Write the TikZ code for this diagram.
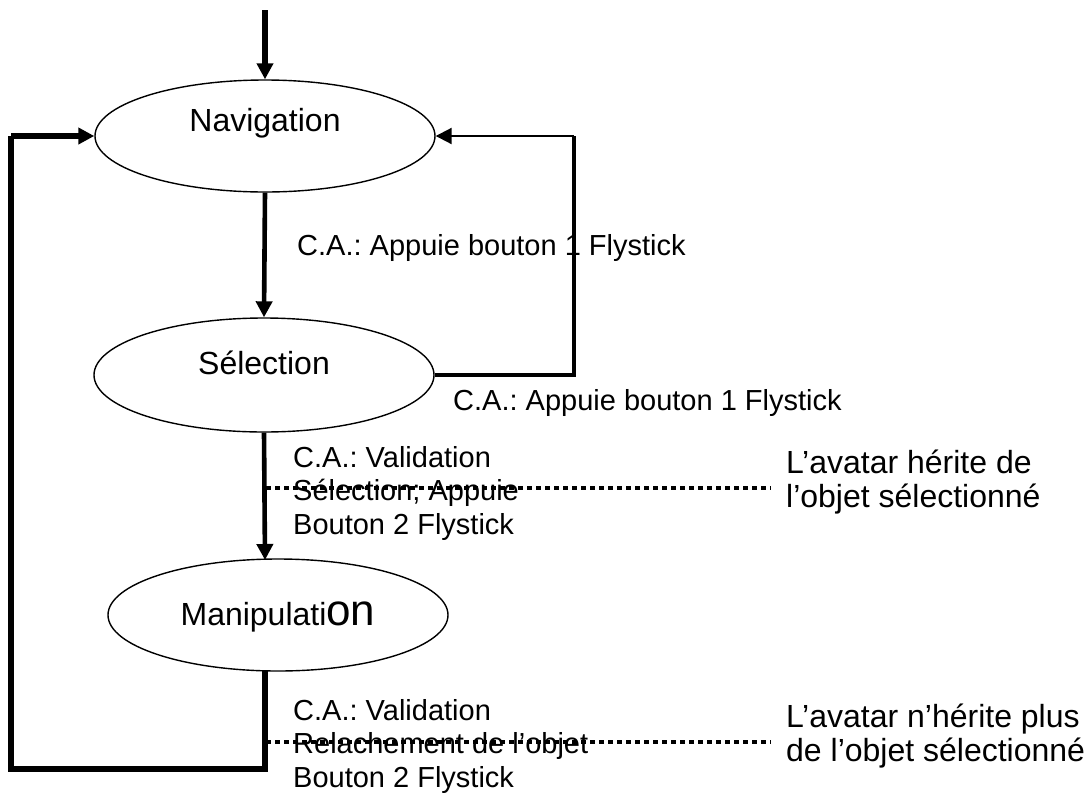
\documentclass[tikz,border=0pt]{standalone}
\usepackage{fontspec}
\setmainfont{Liberation Sans}
\usetikzlibrary{arrows.meta,shapes.geometric}
\frenchspacing
\begin{document}
\begin{tikzpicture}[x=1pt,y=-1pt,
  state/.style={draw,ellipse,line width=1.4pt,minimum width=340pt,minimum height=112pt,inner sep=0pt},
  stxt/.style={font=\fontsize{32}{36}\selectfont,inner sep=0pt},
  lbl/.style={font=\fontsize{29}{33.5}\selectfont,align=left,anchor=west,inner sep=0pt},
  note/.style={font=\fontsize{32}{34.5}\selectfont,align=left,anchor=west,inner sep=0pt},
  conn/.style={line width=4.6pt},
  tip/.style={-{Triangle[length=16pt,width=16pt]}},
  dots/.style={line width=4.5pt,dash pattern=on 4.5pt off 4.5pt}]
\useasboundingbox (0,0) rectangle (1088,796);

% states
\node[state] (nav) at (265,136) {};
\node[state,minimum height=114pt] (sel) at (264,375) {};
\node[state] (man) at (278,615) {};
\node[stxt] (navt) at (265,123) {Navigation};
\node[stxt] (selt) at (264,363) {Sélection};
\node[stxt,anchor=base] (mant) at (278,625) {Manipulati{\fontsize{44}{44}\selectfont on}};

% corner coordinates
\coordinate (start) at (265,10);
\coordinate (lefttop) at (11,136);
\coordinate (leftbot) at (11,769);
\coordinate (midbot) at (265,769);
\coordinate (rightbot) at (574,375);
\coordinate (righttop) at (574,136);
\coordinate (mantop) at (265,560);
\coordinate (manbot) at (265,671);
\coordinate (d1s) at (266,488);
\coordinate (d1e) at (771,488);
\coordinate (d2s) at (266,742);
\coordinate (d2e) at (771,742);

% connectors
\draw[conn,line width=6pt,tip] (start) -- (nav.north);
\draw[conn,tip] (nav.south) -- (sel.north);
\draw[conn,tip] (sel.south) -- (mantop);
\draw[conn,line width=5.5pt] (manbot) -- (midbot) -- (leftbot) -- (lefttop);
\draw[conn,line width=5.5pt,tip] (lefttop) -- (nav.west);
\draw[conn] (sel.east) -- (rightbot) -- (righttop);
\draw[line width=2pt,tip] (righttop) -- (nav.east);

% notes
\node[note] (n1) at (786,482) {L’avatar hérite de\\l’objet sélectionné};
\node[note] (n2) at (786,736) {L’avatar n’hérite plus\\de l’objet sélectionné};
\draw[dots] (d1s) -- (d1e);
\draw[dots] (d2s) -- (d2e);

% labels
\node[lbl] (l1) at (297,248) {C.A.: Appuie bouton 1 Flystick};
\node[lbl] (l2) at (453,403) {C.A.: Appuie bouton 1 Flystick};
\node[lbl] (l3) at (293,493) {C.A.: Validation\\Sélection; Appuie\\Bouton 2 Flystick};
\node[lbl] (l4) at (293,746) {C.A.: Validation\\Relachement de l’objet\\Bouton 2 Flystick};
\end{tikzpicture}
\end{document}
